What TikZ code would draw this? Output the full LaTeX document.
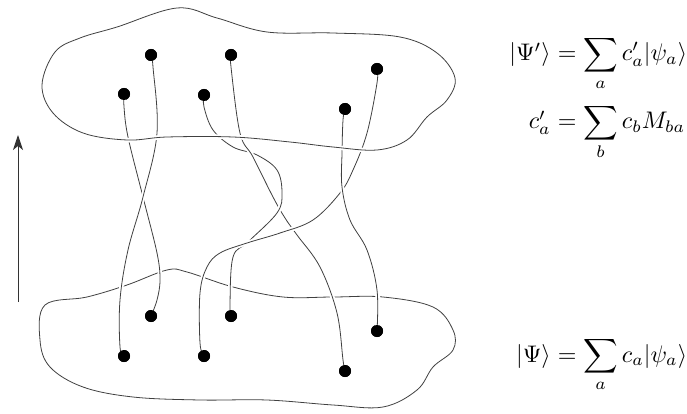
\documentclass[tikz,border=0pt]{standalone}
\usepackage{graphicx}
\usetikzlibrary{arrows.meta}
\begin{document}
\begin{tikzpicture}[x=1pt,y=-1pt,
  strand/.style={draw=black!75, line width=0.8pt},
  halo/.style={preaction={draw=white, line width=4.5pt}},
  blob/.style={draw=black!75, line width=0.8pt},
  dot/.style={circle, fill=black, inner sep=0pt, minimum size=12pt},
  eq/.style={inner sep=0pt}]
\useasboundingbox (0,0) rectangle (687,414);

% dots
\node[dot] (t1) at (124,94) {};
\node[dot] (t2) at (151,55) {};
\node[dot] (t3) at (204,95) {};
\node[dot] (t4) at (231,55) {};
\node[dot] (t5) at (345,109) {};
\node[dot] (t6) at (377,69) {};
\node[dot] (b1) at (124,356) {};
\node[dot] (b2) at (151,316) {};
\node[dot] (b3) at (204,356) {};
\node[dot] (b4) at (231,316) {};
\node[dot] (b5) at (345,371) {};
\node[dot] (b6) at (377,331) {};

% bottom blob
\draw[blob] plot[smooth cycle, tension=0.6] coordinates {(45,305) (87,297) (127,285) (167,270) (187,272) (233,287) (283,297) (333,297) (383,297) (433,307) (453,330) (453,350) (433,367) (417,390) (383,407) (333,405) (267,400) (200,400) (133,397) (83,387) (50,367) (40,340)};

% left pair
\draw[strand, halo] plot[smooth, tension=0.6] coordinates {(t1.center) (124,107) (128,137) (143,197) (157,253) (160,280) (157,300) (b2.center)};
\draw[strand, halo] plot[smooth, tension=0.6] coordinates {(t2.center) (153,67) (157,133) (143,197) (128,250) (120,300) (120,347) (b1.center)};

% C
\draw[strand, halo] plot[smooth, tension=0.6] coordinates {(t4.center) (231,67) (240,133) (253,157) (273,197) (285,218) (297,235) (320,267) (337,313) (343,360) (b5.center)};
% D
\draw[strand, halo] plot[smooth, tension=0.6] coordinates {(t3.center) (204,107) (213,130) (233,147) (257,155) (277,170) (282,193) (277,213) (248,242) (233,257) (230,303) (b4.center)};
% C over D at first crossing
\begin{scope}
\clip (248,152) circle (9);
\draw[strand, halo] plot[smooth, tension=0.6] coordinates {(t4.center) (231,67) (240,133) (253,157) (273,197) (285,218) (297,235) (320,267) (337,313) (343,360) (b5.center)};
\end{scope}
% A
\draw[strand, halo] plot[smooth, tension=0.6] coordinates {(t6.center) (377,83) (367,133) (353,170) (340,193) (313,220) (280,233) (247,243) (220,253) (207,267) (200,293) (200,343) (b3.center)};
% B
\draw[strand, halo] plot[smooth, tension=0.6] coordinates {(t5.center) (343,120) (342,153) (342,187) (350,220) (367,250) (377,290) (b6.center)};

% top blob
\draw[blob, halo] plot[smooth cycle, tension=0.6] coordinates {(42,85) (55,52) (80,38) (117,27) (177,8) (217,18) (267,32) (333,33) (400,37) (437,53) (455,78) (447,100) (427,117) (407,140) (377,150) (333,147) (290,142) (233,137) (167,137) (127,140) (83,133) (53,113)};

% redraw dots on top
\foreach \n in {t1,t2,t3,t4,t5,t6,b1,b2,b3,b4,b5,b6} \fill (\n) circle (6);

% arrow
\coordinate (arS) at (18,302);
\coordinate (arE) at (18,135);
\draw[black!80, line width=1pt, -{Stealth[length=15pt,width=10pt,inset=4pt]}] (arS) -- (arE);

% equations
\node[eq, anchor=base east] (e1l) at (551,61) {\scalebox{2.4}{$|\Psi'\rangle$}};
\node[eq, anchor=base west] (e1r) at (551,61) {\scalebox{2.4}{$\displaystyle {}=\sum_a c'_a|\psi_a\rangle$}};
\node[eq, anchor=base east] (e2l) at (551,129) {\scalebox{2.4}{$c'_a$}};
\node[eq, anchor=base west] (e2r) at (551,129) {\scalebox{2.4}{$\displaystyle {}=\sum_b c_b M_{ba}$}};
\node[eq, anchor=base east] (e3l) at (551,362) {\scalebox{2.4}{$|\Psi\rangle$}};
\node[eq, anchor=base west] (e3r) at (551,362) {\scalebox{2.4}{$\displaystyle {}=\sum_a c_a|\psi_a\rangle$}};
\end{tikzpicture}
\end{document}
